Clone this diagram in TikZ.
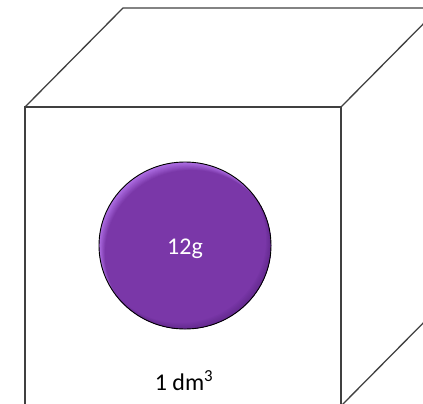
\documentclass[tikz,border=0pt]{standalone}
\usepackage{fontspec}
\setmainfont{Carlito}
\definecolor{edge}{HTML}{404040}
\definecolor{ballbase}{HTML}{7A37A8}
\definecolor{balllight}{HTML}{B070E6}
\definecolor{balldark}{HTML}{4A1A70}
\tikzset{
  cubeline/.style={draw=edge, line width=1.3pt, line join=miter},
  balltext/.style={text=white, font=\fontsize{24}{27}\selectfont, inner sep=0pt, anchor=base},
  cubetext/.style={text=black, font=\fontsize{24}{27}\selectfont, inner sep=0pt, anchor=base}
}
\begin{document}
\begin{tikzpicture}[x=1pt,y=-1pt]
\useasboundingbox (0,0) rectangle (423,404);
\begin{scope}
\clip (0,0) rectangle (423,404);
% cube corners
\coordinate (fTL) at (25,107);
\coordinate (fTR) at (341,107);
\coordinate (fBR) at (341,406);
\coordinate (fBL) at (25,406);
\coordinate (bTL) at (123,8);
\coordinate (bTR) at (439,8);
\coordinate (bBR) at (439,307);
\draw[cubeline] (fTL) -- (fTR) -- (fBR) -- (fBL) -- cycle;
\draw[cubeline] (fTL) -- (bTL) -- (bTR) -- (fTR);
\draw[cubeline] (bTR) -- (bBR) -- (fBR);
\end{scope}
% ball
\coordinate (ballc) at (185,245.5);
\begin{scope}
\clip (ballc) ellipse [x radius=86, y radius=83.5];
\fill[balllight] (ballc) ellipse [x radius=86, y radius=83.5];
\foreach \k/\m in {1/90,2/80,3/70,4/60,5/50,6/40,7/30,8/20,9/10,10/0} {
  \fill[color=balllight!\m!ballbase] ({185+0.6*\k},{245.5+0.8*\k}) ellipse [x radius=86, y radius=83.5];
}
\foreach \k in {1,...,6} {
  \fill[balldark, opacity=0.07, even odd rule] (185,245.5) ellipse [x radius=86, y radius=83.5]
    ({185-0.8*\k},{245.5-1.0*\k}) ellipse [x radius=86, y radius=83.5];
}
\end{scope}
\draw[black, line width=0.9pt] (ballc) ellipse [x radius=86, y radius=83.5];
\node[balltext] (mass) at (185,254) {12g};
\node[cubetext] (vol) at (184,390.5) {1 dm\textsuperscript{3}};
\end{tikzpicture}
\end{document}
